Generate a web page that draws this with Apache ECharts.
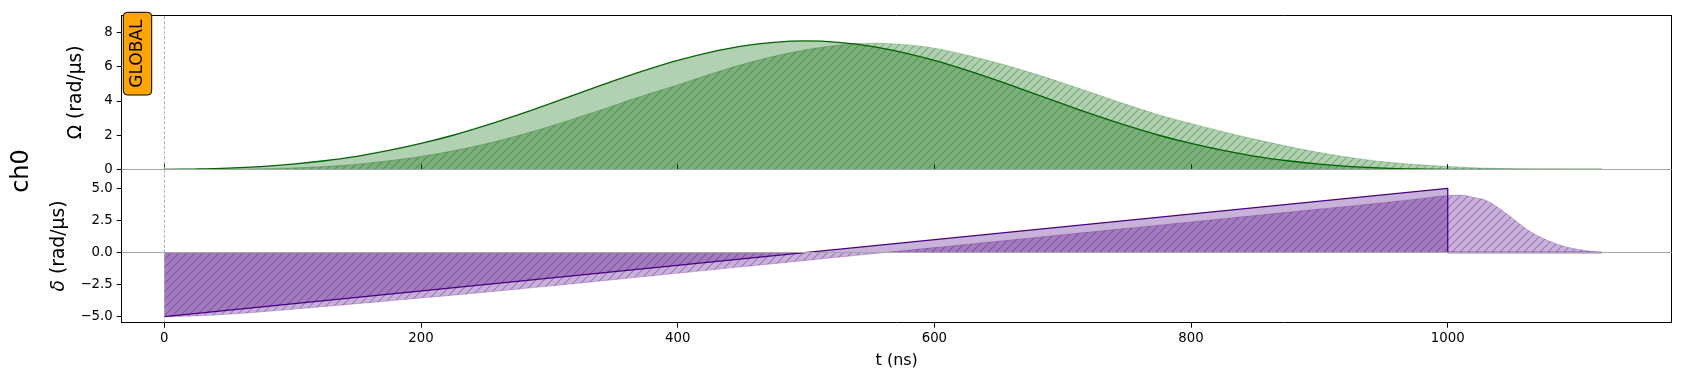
<!DOCTYPE html>
<html lang="en">
<head>
<meta charset="UTF-8">
<title>ch0 pulse sequence</title>
<script src="https://cdn.jsdelivr.net/npm/echarts@6/dist/echarts.min.js"></script>
<style>html,body{margin:0;padding:0;background:#fff;}</style>
</head>
<body>
<div id="main" style="width:1692px;height:380px;"></div>
<script>
// sample times (ns) and values
var tOmega = [0,25,50,75,100,125,150,175,200,225,250,275,300,325,350,375,400,425,450,475,500,
    525,550,575,600,625,650,675,700,725,750,775,800,825,850,875,900,925,950,975,1000,
    1025,1050,1075,1100,1120];
var omega = [0,0.02,0.07,0.16,0.30,0.50,0.76,1.10,1.51,1.99,2.55,3.17,3.82,4.50,5.17,5.80,6.37,6.84,7.20,7.42,7.50,
    7.42,7.20,6.84,6.37,5.80,5.17,4.50,3.82,3.17,2.55,1.99,1.51,1.10,0.76,0.50,0.30,0.16,0.07,0.02,0,
    0,0,0,0,0];
// modulated (output) amplitude
var omegaMod = [0,0,0.01,0.03,0.08,0.17,0.30,0.50,0.75,1.08,1.48,1.96,2.50,3.10,3.72,4.35,4.93,5.55,6.12,6.60,6.98,
    7.25,7.37,7.30,7.08,6.68,6.20,5.65,5.05,4.42,3.78,3.18,2.68,2.20,1.75,1.35,0.98,0.68,0.44,0.28,0.17,
    0.08,0.03,0.01,0,0];

var tDelta = [0,1000,1000,1120];
var delta = [-5,5,0,0];
var tDeltaMod = [0,25,50,75,100,125,150,175,200,225,250,275,300,325,350,375,400,425,450,475,500,
    525,550,575,600,625,650,675,700,725,750,775,800,825,850,875,900,925,950,975,1000,
    1010,1020,1030,1040,1050,1060,1070,1080,1090,1100,1110,1120];
var deltaMod = [-5.00,-4.94,-4.81,-4.63,-4.43,-4.21,-3.99,-3.77,-3.55,-3.33,-3.10,-2.86,-2.62,-2.37,-2.12,-1.87,-1.62,-1.37,-1.12,-0.87,-0.62,
    -0.37,-0.12,0.13,0.38,0.63,0.88,1.13,1.38,1.63,1.88,2.13,2.38,2.63,2.88,3.13,3.38,3.63,3.88,4.15,4.44,
    4.47,4.30,4.05,3.45,2.70,1.92,1.30,0.85,0.50,0.27,0.12,0];

var xTicks = [0,200,400,600,800,1000];
var omegaTicks = [0,2,4,6,8];
var deltaTicks = [-5,-2.5,0,2.5,5];

function pairs(xs, ys) {
    var out = [];
    for (var i = 0; i < xs.length; i++) out.push([xs[i], ys[i]]);
    return out;
}

// diagonal hatch tile used as a fill pattern
function hatch(fill, stroke) {
    var s = 8;
    var c = document.createElement('canvas');
    c.width = s; c.height = s;
    var ctx = c.getContext('2d');
    ctx.fillStyle = fill;
    ctx.fillRect(0, 0, s, s);
    ctx.strokeStyle = stroke;
    ctx.lineWidth = 1.2;
    ctx.beginPath();
    ctx.moveTo(0, s); ctx.lineTo(s, 0);
    ctx.moveTo(-1, 1); ctx.lineTo(1, -1);
    ctx.moveTo(s - 1, s + 1); ctx.lineTo(s + 1, s - 1);
    ctx.stroke();
    return c;
}

var font = 'DejaVu Sans';
var xMin = -33.2, xMax = 1174.5;
var labelStyle = {color: '#000', fontFamily: font, fontSize: 13.3};

function frameAxis(grid, pos, min, max) {
    return {
        type: 'value', gridIndex: grid, position: pos, min: min, max: max,
        axisLine: {show: true, onZero: false, lineStyle: {color: '#000', width: 1}},
        axisTick: {show: false}, axisLabel: {show: false}, splitLine: {show: false}
    };
}

var chart = echarts.init(document.getElementById('main'));

var option = {
    animation: false,
    backgroundColor: '#fff',
    grid: [
        {left: 121.7, right: 20.3, top: 15.3, height: 154},
        {left: 121.7, right: 20.3, top: 169.3, height: 153.4}
    ],
    xAxis: [
        {
            type: 'value', gridIndex: 0, position: 'bottom', min: xMin, max: xMax,
            axisLine: {show: false, onZero: false},
            axisTick: {show: true, inside: true, length: 5, customValues: xTicks, lineStyle: {color: '#000'}},
            axisLabel: {show: false}, splitLine: {show: false}
        },
        frameAxis(0, 'top', xMin, xMax),
        {
            type: 'value', gridIndex: 1, position: 'bottom', min: xMin, max: xMax,
            name: 't (ns)', nameLocation: 'middle', nameGap: 30,
            nameTextStyle: {color: '#000', fontFamily: font, fontSize: 16},
            axisLine: {show: true, onZero: false, lineStyle: {color: '#000', width: 1}},
            axisTick: {show: true, length: 5, customValues: xTicks, lineStyle: {color: '#000'}},
            axisLabel: Object.assign({margin: 9, customValues: xTicks,
                formatter: function (v) { return String(v); }}, labelStyle),
            splitLine: {show: false}
        }
    ],
    yAxis: [
        {
            type: 'value', gridIndex: 0, position: 'left', min: 0, max: 9,
            name: 'Ω (rad/µs)', nameLocation: 'middle', nameGap: 36, nameRotate: 90,
            nameTextStyle: {color: '#000', fontFamily: font, fontSize: 18.7},
            axisLine: {show: true, onZero: false, lineStyle: {color: '#000', width: 1}},
            axisTick: {show: true, length: 5, customValues: omegaTicks, lineStyle: {color: '#000'}},
            axisLabel: Object.assign({margin: 9, customValues: omegaTicks}, labelStyle),
            splitLine: {show: false}
        },
        frameAxis(0, 'right', 0, 9),
        {
            type: 'value', gridIndex: 1, position: 'left', min: -5.47, max: 6.48,
            name: '{i|δ} (rad/µs)', nameLocation: 'middle', nameGap: 53, nameRotate: 90,
            nameTextStyle: {color: '#000', fontFamily: font, fontSize: 18.7,
                rich: {i: {fontStyle: 'italic', fontFamily: font, fontSize: 18.7, color: '#000'}}},
            axisLine: {show: true, onZero: false, lineStyle: {color: '#000', width: 1}},
            axisTick: {show: true, length: 5, customValues: deltaTicks, lineStyle: {color: '#000'}},
            axisLabel: Object.assign({
                margin: 9, customValues: deltaTicks,
                formatter: function (v) { return (v < 0 ? '\u2212' : '') + Math.abs(v).toFixed(1); }
            }, labelStyle),
            splitLine: {show: false}
        },
        frameAxis(1, 'right', -5.47, 6.48)
    ],
    series: [
        {
            name: 'Ω output', type: 'line', xAxisIndex: 0, yAxisIndex: 0,
            data: pairs(tOmega, omegaMod), showSymbol: false, symbol: 'none',
            smooth: 0.35,
            lineStyle: {color: 'rgba(0,100,0,0.25)', width: 1},
            areaStyle: {color: {image: hatch('rgba(0,100,0,0.3)', 'rgba(0,100,0,0.33)'), repeat: 'repeat'}, opacity: 1},
            markLine: {
                silent: true, symbol: 'none', label: {show: false}, animation: false,
                data: [
                    {yAxis: 0, lineStyle: {color: '#a6a6a6', width: 1, type: 'solid'}},
                    {xAxis: 0, lineStyle: {color: '#999', width: 0.8, type: [3, 2]}}
                ]
            }
        },
        {
            name: 'Ω', type: 'line', xAxisIndex: 0, yAxisIndex: 0,
            data: pairs(tOmega, omega), showSymbol: false, symbol: 'none',
            smooth: 0.35,
            lineStyle: {color: '#006400', width: 1.3},
            areaStyle: {color: 'rgba(0,100,0,0.3)', opacity: 1}
        },
        {
            name: 'δ output', type: 'line', xAxisIndex: 2, yAxisIndex: 2,
            data: pairs(tDeltaMod, deltaMod), showSymbol: false, symbol: 'none',
            smooth: 0.35,
            lineStyle: {color: 'rgba(75,0,130,0.22)', width: 1},
            areaStyle: {color: {image: hatch('rgba(75,0,130,0.3)', 'rgba(75,0,130,0.33)'), repeat: 'repeat'}, opacity: 1},
            markLine: {
                silent: true, symbol: 'none', label: {show: false}, animation: false,
                data: [
                    {yAxis: 0, lineStyle: {color: '#a6a6a6', width: 1, type: 'solid'}},
                    {xAxis: 0, lineStyle: {color: '#999', width: 0.8, type: [3, 2]}}
                ]
            }
        },
        {
            name: 'δ', type: 'line', xAxisIndex: 2, yAxisIndex: 2,
            data: pairs(tDelta, delta), showSymbol: false, symbol: 'none',
            lineStyle: {color: '#4b0082', width: 1.3},
            areaStyle: {color: 'rgba(75,0,130,0.3)', opacity: 1}
        }
    ],
    graphic: [
        {
            type: 'text', x: 21.7, y: 171, rotation: Math.PI / 2, z: 10,
            style: {text: 'ch0', fill: '#000', font: '24px "DejaVu Sans"',
                align: 'center', verticalAlign: 'middle', textAlign: 'center', textVerticalAlign: 'middle'}
        },
        {
            type: 'rect', z: 10,
            shape: {x: 123.3, y: 12.3, width: 28.4, height: 82.7, r: 4},
            style: {fill: '#ffa500', stroke: '#000', lineWidth: 1}
        },
        {
            type: 'text', x: 137.5, y: 53.7, rotation: Math.PI / 2, z: 11,
            style: {text: 'GLOBAL', fill: '#000', font: '17px "DejaVu Sans"',
                align: 'center', verticalAlign: 'middle', textAlign: 'center', textVerticalAlign: 'middle'}
        }
    ]
};

chart.setOption(option);
</script>
</body>
</html>
